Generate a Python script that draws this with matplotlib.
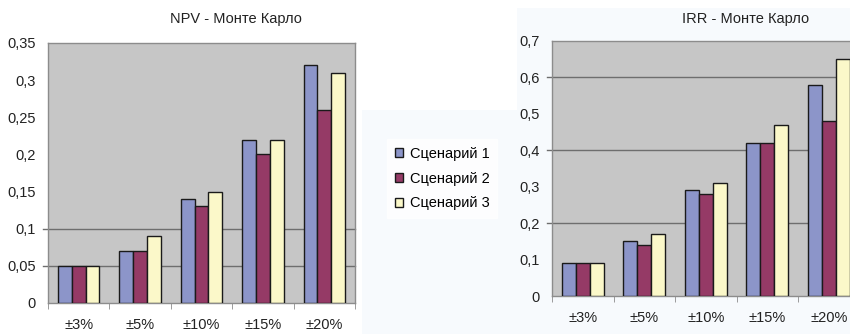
import matplotlib
matplotlib.use("Agg")
import matplotlib.pyplot as plt
from matplotlib.patches import Patch, Rectangle
import numpy as np

plt.rcParams['font.family'] = ['Liberation Sans', 'DejaVu Sans']

categories = ['±3%', '±5%', '±10%', '±15%', '±20%']
series_names = ['Сценарий 1', 'Сценарий 2', 'Сценарий 3']

npv_s1 = [0.05, 0.07, 0.14, 0.22, 0.32]
npv_s2 = [0.05, 0.07, 0.13, 0.20, 0.26]
npv_s3 = [0.05, 0.09, 0.15, 0.22, 0.31]

irr_s1 = [0.09, 0.15, 0.29, 0.42, 0.58]
irr_s2 = [0.09, 0.14, 0.28, 0.42, 0.48]
irr_s3 = [0.09, 0.17, 0.31, 0.47, 0.65]

npv_ticks = [0, 0.05, 0.1, 0.15, 0.2, 0.25, 0.3, 0.35]
npv_tick_labels = ['0', '0,05', '0,1', '0,15', '0,2', '0,25', '0,3', '0,35']
irr_ticks = [0, 0.1, 0.2, 0.3, 0.4, 0.5, 0.6, 0.7]
irr_tick_labels = ['0', '0,1', '0,2', '0,3', '0,4', '0,5', '0,6', '0,7']

colors = ['#8c95c9', '#953a66', '#fbf8c9']
plot_bg = '#c6c6c6'
frame_gray = '#8c8c8c'
text_color = '#222222'

W, H = 850, 334
fig = plt.figure(figsize=(W / 100, H / 100), dpi=100)
fig.patch.set_facecolor('white')
# faint tinted backdrop around the right-hand chart and the legend
tint = '#f7fafd'
fig.patches.append(Rectangle((517 / W, 0), 1 - 517 / W, 1 - 8 / H,
                             transform=fig.transFigure, facecolor=tint,
                             edgecolor='none', zorder=-10))
fig.patches.append(Rectangle((362 / W, 0), (517 - 362) / W, 1 - 110 / H,
                             transform=fig.transFigure, facecolor=tint,
                             edgecolor='none', zorder=-10))


def bar_chart(rect, series, ticks, tick_labels, grid_levels, title, title_xy):
    ax = fig.add_axes(rect)
    ax.set_facecolor(plot_bg)
    x = np.arange(len(categories))
    w = 0.225
    for i, vals in enumerate(series):
        ax.bar(x + (i - 1) * w, vals, width=w, color=colors[i],
               edgecolor='#1a1a1a', linewidth=1.0, zorder=3)
    for lvl in grid_levels:
        ax.axhline(lvl, xmin=-0.016, xmax=1, color='#6e6e6e', lw=1.0,
                   clip_on=False, zorder=2)
    ax.set_xlim(-0.5, len(categories) - 0.5)
    ax.set_ylim(ticks[0], ticks[-1])
    ax.set_yticks(ticks)
    ax.set_yticklabels(tick_labels)
    ax.set_xticks(x)
    ax.set_xticklabels(categories)
    ax.set_xticks(np.arange(len(categories) + 1) - 0.5, minor=True)
    ax.tick_params(axis='y', length=0, pad=9, labelsize=10.5, colors=text_color)
    ax.tick_params(axis='x', which='major', length=0, pad=11, labelsize=10.5,
                   colors=text_color)
    ax.tick_params(axis='x', which='minor', length=4, color=frame_gray,
                   direction='out')
    for side in ['left', 'top', 'right', 'bottom']:
        ax.spines[side].set_color(frame_gray)
        ax.spines[side].set_linewidth(1.0)
    fig.text(title_xy[0] / W, 1 - title_xy[1] / H, title, ha='center',
             va='center', fontsize=10.5, color=text_color)
    return ax


bar_chart([48 / W, (H - 303) / H, 307 / W, 260 / H],
          [npv_s1, npv_s2, npv_s3], npv_ticks, npv_tick_labels,
          [0.05, 0.1], 'NPV - Монте Карло', (236, 19))

bar_chart([552 / W, (H - 296) / H, 307.5 / W, 255 / H],
          [irr_s1, irr_s2, irr_s3], irr_ticks, irr_tick_labels,
          [0.2, 0.4, 0.6], 'IRR - Монте Карло', (746, 19))

handles = [Patch(facecolor=c, edgecolor='#1a1a1a', linewidth=1.0) for c in colors]
leg = fig.legend(handles, series_names, loc='upper left',
                 bbox_to_anchor=(380 / W, 1 - 132 / H), frameon=True,
                 fontsize=10.5, handlelength=0.55, handleheight=0.55,
                 handletextpad=0.5, labelspacing=0.75, borderpad=0.5,
                 fancybox=False)
leg.get_frame().set_facecolor('white')
leg.get_frame().set_edgecolor('white')

fig.savefig('out.png', dpi=100)
